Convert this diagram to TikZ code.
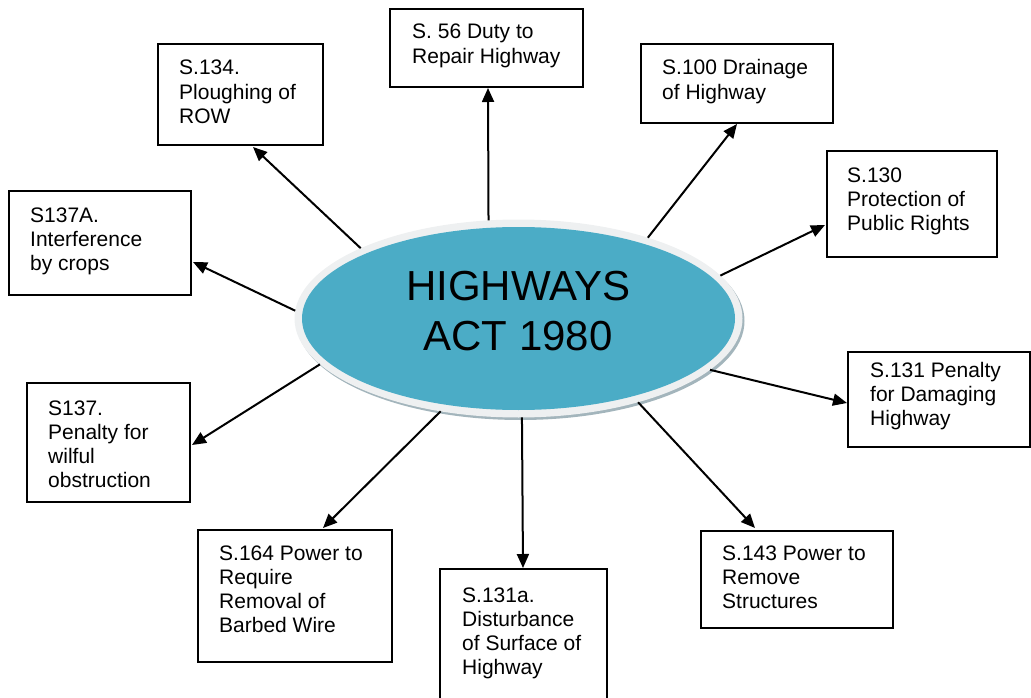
\documentclass[tikz,border=0pt]{standalone}
\usepackage{fontspec}
\setmainfont{Liberation Sans}
\usetikzlibrary{arrows.meta,shapes.geometric}
\definecolor{tealfill}{HTML}{4BACC6}
\definecolor{rimcol}{HTML}{EEF0F1}
\definecolor{shadecol}{HTML}{A3B5BC}
\begin{document}
\begin{tikzpicture}[x=1pt,y=1pt,
  box/.style={draw, line width=2pt, inner sep=0pt, outer sep=0pt, anchor=north west, rectangle},
  lbl/.style={anchor=base west, align=left, inner sep=0pt, font=\fontsize{21}{24.15}\selectfont},
  arr/.style={line width=2pt, -{Triangle[length=14pt,width=12pt]}}]
\useasboundingbox (0,0) rectangle (1031,-698);
% central ellipse
\node[ellipse, fill=shadecol, minimum width=448pt, minimum height=198pt, inner sep=0pt] (shadow) at (520.5,-321) {};
\node[ellipse, fill=rimcol, minimum width=448pt, minimum height=198pt, inner sep=0pt, outer sep=0pt] (ell) at (518.5,-318.5) {};
\node[ellipse, fill=tealfill, minimum width=433pt, minimum height=183pt, inner sep=0pt] (core) at (518.5,-318.5) {};
\node[font=\fontsize{42}{50}\selectfont, align=center, anchor=base, inner sep=0pt] (title) at (518,-350) {HIGHWAYS\\ACT 1980};
% boxes
\node[box, minimum width=165pt, minimum height=101pt] (b134) at (158,-44) {};
\node[lbl] (t134) at (179,-123.3) {S.134.\\Ploughing of\\ROW};
\node[box, minimum width=193pt, minimum height=78pt] (b56) at (390,-9) {};
\node[lbl] (t56) at (412,-63.15) {S. 56 Duty to\\Repair Highway};
\node[box, minimum width=192pt, minimum height=79pt] (b100) at (641,-44) {};
\node[lbl] (t100) at (662,-99.15) {S.100 Drainage\\of Highway};
\node[box, minimum width=170pt, minimum height=106pt] (b130) at (827,-151) {};
\node[lbl] (t130) at (847,-230.3) {S.130\\Protection of\\Public Rights};
\node[box, minimum width=182pt, minimum height=104pt] (b137A) at (9,-191) {};
\node[lbl] (t137A) at (30,-270.3) {S137A.\\Interference\\by crops};
\node[box, minimum width=182pt, minimum height=95pt] (b131) at (848,-352) {};
\node[lbl] (t131) at (870,-425.3) {S.131 Penalty\\for Damaging\\Highway};
\node[box, minimum width=163pt, minimum height=119pt] (b137) at (27,-383) {};
\node[lbl] (t137) at (48,-487.45) {S137.\\Penalty for\\wilful\\obstruction};
\node[box, minimum width=194pt, minimum height=132pt] (b164) at (198,-530) {};
\node[lbl] (t164) at (219,-632.45) {S.164 Power to\\Require\\Removal of\\Barbed Wire};
\node[box, minimum width=167pt, minimum height=132pt] (b131a) at (440,-569) {};
\node[lbl] (t131a) at (462,-674.45) {S.131a.\\Disturbance\\of Surface of\\Highway};
\node[box, minimum width=192pt, minimum height=97pt] (b143) at (701,-531) {};
\node[lbl] (t143) at (722,-608.3) {S.143 Power to\\Remove\\Structures};
% arrows
\draw[arr] (ell.156.7) -- ([xshift=95pt,yshift=-2pt]b134.south west);
\draw[arr] (ell.107.3) -- ([xshift=98pt,yshift=-1pt]b56.south west);
\draw[arr] (ell.32.7) -- ([xshift=96pt,yshift=-1pt]b100.south west);
\draw[arr] (ell.12.1) -- ([xshift=-2pt,yshift=-74pt]b130.north west);
\draw[arr] (ell.178.6) -- ([xshift=2pt,yshift=-71pt]b137A.north east);
\draw[arr] (ell.-15.4) -- ([xshift=-1pt,yshift=-51pt]b131.north west);
\draw[arr] (ell.193.6) -- ([xshift=2pt,yshift=-62pt]b137.north east);
\draw[arr] (ell.230.9) -- ([xshift=125pt,yshift=2pt]b164.north west);
\draw[arr] (ell.272.6) -- ([xshift=83pt,yshift=1pt]b131a.north west);
\draw[arr] (ell.-35.5) -- ([xshift=54pt,yshift=3pt]b143.north west);
\end{tikzpicture}
\end{document}
